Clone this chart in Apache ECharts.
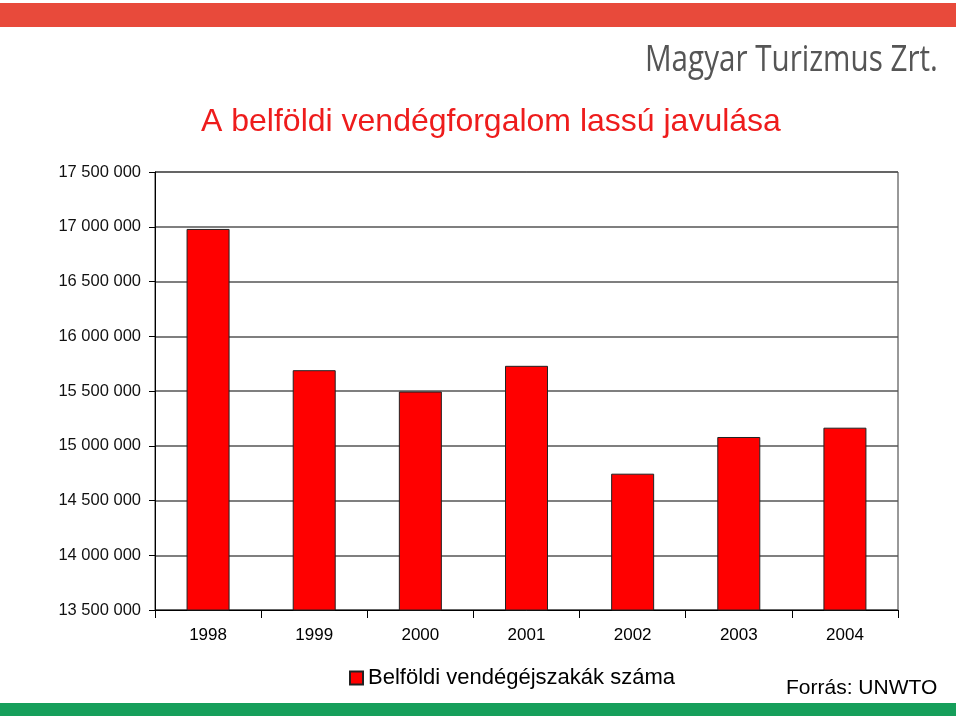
<!DOCTYPE html>
<html>
<head>
<meta charset="utf-8">
<script src="https://cdn.jsdelivr.net/npm/echarts@6/dist/echarts.min.js"></script>
<style>html,body{margin:0;padding:0;background:#fff}#c{width:960px;height:720px}</style>
</head>
<body>
<div id="c"></div>
<script>
var categories = ['1998', '1999', '2000', '2001', '2002', '2003', '2004'];
var nights = [16980000, 15690000, 15495000, 15730000, 14745000, 15080000, 15165000];
var seriesName = 'Belföldi vendégéjszakák száma';
var titleText = 'A belföldi vendégforgalom lassú javulása';
var sourceText = 'Forrás: UNWTO';
var logoText = 'Magyar Turizmus Zrt.';

function fmt(v) {
  return String(Math.round(v)).replace(/\B(?=(\d{3})+(?!\d))/g, ' ');
}

var chart = echarts.init(document.getElementById('c'), null, {renderer: 'canvas'});
chart.setOption({
  animation: false,
  backgroundColor: '#fff',
  textStyle: {fontFamily: 'Liberation Sans, Arial, sans-serif'},
  title: {
    text: titleText,
    left: 201,
    top: 106,
    padding: [0, 0, 0, 0],
    textStyle: {color: '#ee1c1c', fontSize: 32, fontWeight: 'normal', fontFamily: 'Liberation Sans, Arial, sans-serif'}
  },
  graphic: [
    {type: 'rect', shape: {x: 0, y: 3, width: 956, height: 24}, style: {fill: '#e84a3b'}, silent: true},
    {type: 'rect', shape: {x: 0, y: 703, width: 956, height: 13}, style: {fill: '#169f5b'}, silent: true},
    {type: 'text', x: 645, y: 60, scaleX: 0.8, scaleY: 1, originX: 0, originY: 0,
      style: {x: 0, y: 0, text: logoText, fill: '#555555', fontSize: 37, textAlign: 'left', textVerticalAlign: 'middle', fontFamily: 'Open Sans, sans-serif'}, silent: true},
    {type: 'text', left: 786, top: 678, style: {text: sourceText, fill: '#000', fontSize: 21, fontFamily: 'Liberation Sans, Arial, sans-serif'}, silent: true}
  ],
  legend: {
    data: [seriesName],
    left: 344,
    top: 662,
    icon: 'rect',
    itemWidth: 13,
    itemHeight: 13,
    itemGap: 8,
    textStyle: {fontSize: 22, color: '#000', fontFamily: 'Liberation Sans, Arial, sans-serif'}
  },
  grid: {
    left: 155, right: 62, top: 172, bottom: 110,
    show: true, borderColor: '#333', borderWidth: 1, backgroundColor: 'transparent'
  },
  xAxis: {
    type: 'category',
    data: categories,
    axisLine: {lineStyle: {color: '#000', width: 1}},
    axisTick: {show: true, length: 8, lineStyle: {color: '#000'}},
    axisLabel: {fontSize: 17, color: '#000', margin: 17}
  },
  yAxis: {
    type: 'value',
    min: 13500000,
    max: 17500000,
    interval: 500000,
    axisLine: {show: true, lineStyle: {color: '#000', width: 1}},
    axisTick: {show: true, length: 6, lineStyle: {color: '#000'}},
    axisLabel: {fontSize: 16.5, color: '#111', margin: 14, formatter: fmt},
    splitLine: {show: true, lineStyle: {color: '#555', width: 1.5}}
  },
  series: [{
    name: seriesName,
    type: 'bar',
    data: nights,
    barWidth: 43,
    itemStyle: {color: '#ff0000', borderColor: '#222', borderWidth: 1}
  }]
});
</script>
</body>
</html>
